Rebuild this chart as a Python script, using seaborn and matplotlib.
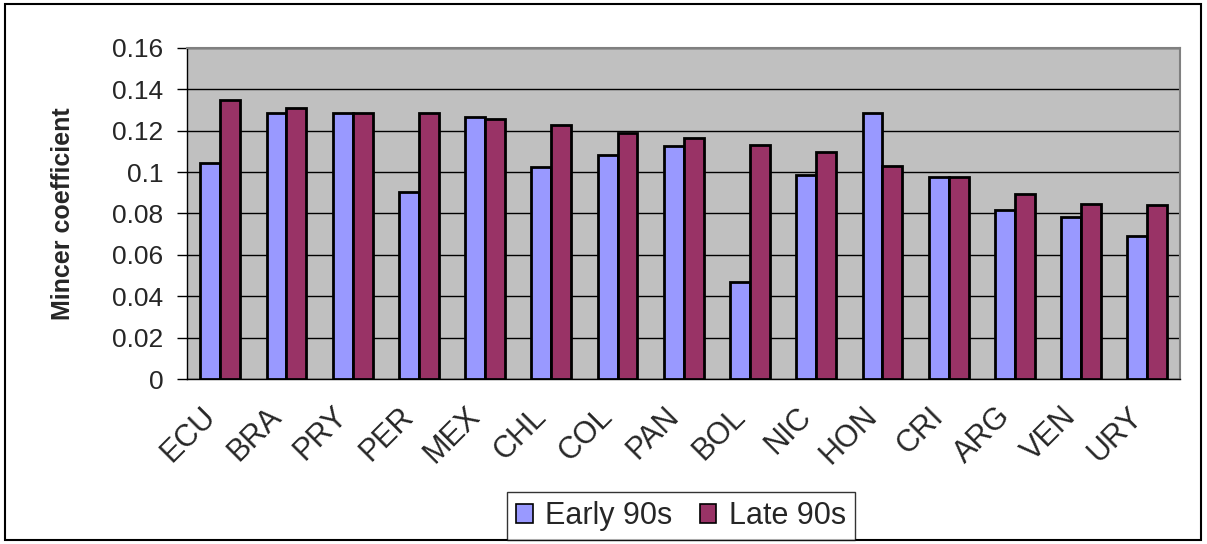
import seaborn as sns
import matplotlib.pyplot as plt
import matplotlib.transforms as mtransforms
import pandas as pd
import numpy as np
from matplotlib.patches import Rectangle

countries = ["ECU", "BRA", "PRY", "PER", "MEX", "CHL", "COL", "PAN",
             "BOL", "NIC", "HON", "CRI", "ARG", "VEN", "URY"]
early_90s = [0.1046, 0.1284, 0.1286, 0.0903, 0.1264, 0.1027, 0.1085, 0.1124,
             0.0470, 0.0988, 0.1286, 0.0975, 0.0818, 0.0782, 0.0691]
late_90s = [0.1350, 0.1312, 0.1286, 0.1286, 0.1257, 0.1226, 0.1187, 0.1164,
            0.1133, 0.1099, 0.1031, 0.0975, 0.0896, 0.0847, 0.0840]
series = ["Early 90s", "Late 90s"]
colors = {"Early 90s": "#9999FF", "Late 90s": "#993366"}
yticks = [0, 0.02, 0.04, 0.06, 0.08, 0.1, 0.12, 0.14, 0.16]
ytick_labels = ["0", "0.02", "0.04", "0.06", "0.08", "0.1", "0.12", "0.14", "0.16"]

df = pd.DataFrame({
    "country": countries * 2,
    "value": early_90s + late_90s,
    "period": [series[0]] * len(countries) + [series[1]] * len(countries),
})

sns.set_style("white")
plt.rcParams['font.family'] = ['Liberation Sans', 'DejaVu Sans']

fig = plt.figure(figsize=(12.07, 5.44), dpi=100)
ax = fig.add_axes([0.155, 0.3033, 0.823, 0.6085])
ax.set_facecolor("#C0C0C0")

sns.barplot(data=df, x="country", y="value", hue="period", palette=colors,
            saturation=1, width=0.6, edgecolor="black", linewidth=2.0, ax=ax, zorder=3)

ax.set_ylim(0, 0.16)
ax.set_xlim(-0.5, len(countries) - 0.5)
ax.set_yticks(yticks)
ax.set_yticklabels(ytick_labels, fontsize=19)
ax.yaxis.grid(True, color="black", linewidth=1.0, zorder=0)
ax.set_axisbelow(True)

# category separators as tick marks
ax.set_xticks(np.arange(len(countries)))
ax.set_xticklabels(countries, rotation=45, ha="right", rotation_mode="anchor", fontsize=22)
ax.set_xticks(np.arange(len(countries) + 1) - 0.5, minor=True)
ax.tick_params(axis="x", which="major", length=0, pad=16)
ax.tick_params(axis="x", which="minor", length=7, width=1, color="black", direction="out")
ax.tick_params(axis="y", length=7, width=1, color="black", direction="out", left=True, pad=10)
shift = mtransforms.ScaledTranslation(-20 / 100, 0, fig.dpi_scale_trans)
for lbl in ax.get_xticklabels():
    lbl.set_transform(lbl.get_transform() + shift)

ax.set_xlabel("")
ax.set_ylabel("Mincer coefficient", fontsize=18, fontweight="bold")
ax.yaxis.set_label_coords(-0.113, 0.5)

for side in ["left", "bottom"]:
    ax.spines[side].set_color("black")
    ax.spines[side].set_linewidth(1.0)
for side in ["top", "right"]:
    ax.spines[side].set_color("#808080")
    ax.spines[side].set_linewidth(1.5)

ax.legend_.remove()
handles = [Rectangle((0, 0), 1, 1, facecolor=colors[s], edgecolor="black", linewidth=1.2) for s in series]
leg = fig.legend(handles, series, loc="center", bbox_to_anchor=(0.564, 0.051), ncol=2,
                 fontsize=22, frameon=True, fancybox=False, handlelength=0.55, handleheight=0.55,
                 handletextpad=0.4, columnspacing=0.9, borderpad=0.3)
leg.get_frame().set_edgecolor("black")
leg.get_frame().set_linewidth(1.0)

fig.patches.append(Rectangle((0.004, 0.007), 0.991, 0.986, transform=fig.transFigure,
                             fill=False, edgecolor="black", linewidth=1.5))

plt.savefig("out.png", dpi=100)
